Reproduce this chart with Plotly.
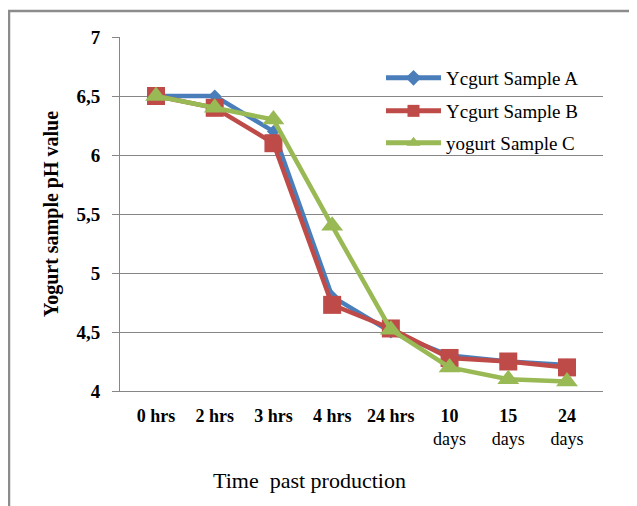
import plotly.graph_objects as go

categories = ["<b>0 hrs</b>", "<b>2 hrs</b>", "<b>3 hrs</b>", "<b>4 hrs</b>", "<b>24 hrs</b>",
              "<b>10</b><br>days", "<b>15</b><br>days", "<b>24</b><br>days"]
sample_a = [6.5, 6.5, 6.2, 4.8, 4.5, 4.3, 4.25, 4.22]
sample_b = [6.5, 6.4, 6.1, 4.73, 4.53, 4.28, 4.25, 4.2]
sample_c = [6.5, 6.4, 6.3, 5.4, 4.52, 4.2, 4.1, 4.08]
y_ticks = [4, 4.5, 5, 5.5, 6, 6.5, 7]

serif = "Liberation Serif"

# page is offset by the default 8px body margin
OFF = 8
W, H = 637, 506
ml, mr, mt, mb = 120 - OFF, 34 + OFF, 37 - OFF, 115 + OFF
pw, ph = W - ml - mr, H - mt - mb

def px_x(p):
    return (p - OFF - ml) / pw

def px_y(p):
    return (H - mb - (p - OFF)) / ph

fig = go.Figure()
fig.add_trace(go.Scatter(x=categories, y=sample_a, name="Ycgurt Sample A", mode="lines+markers",
                         line=dict(color="#4a7ebb", width=4.5),
                         marker=dict(symbol="diamond", size=10, color="#4a7ebb"), legend="legend"))
fig.add_trace(go.Scatter(x=categories, y=sample_b, name="Ycgurt Sample B", mode="lines+markers",
                         line=dict(color="#be4b48", width=4.5),
                         marker=dict(symbol="square", size=18, color="#be4b48"), legend="legend2"))
fig.add_trace(go.Scatter(x=categories, y=sample_c, name="yogurt Sample C", mode="lines+markers",
                         line=dict(color="#98b954", width=4.5),
                         marker=dict(symbol="triangle-up", size=19, color="#98b954"), legend="legend3"))

fig.add_shape(type="rect", xref="paper", yref="paper",
              x0=px_x(9), x1=px_x(680), y0=px_y(560), y1=px_y(11),
              line=dict(color="#8c8c8c", width=2.5), fillcolor="rgba(0,0,0,0)", layer="below")

fig.add_annotation(text="Time  past production", xref="paper", yref="paper",
                   x=px_x(309), y=px_y(480), xanchor="center", yanchor="middle", showarrow=False,
                   font=dict(family=serif, size=22, color="black"))

leg_font = dict(family=serif, size=19, color="black")
def leg(cy):
    return dict(x=px_x(381), y=px_y(cy), xanchor="left", yanchor="middle",
                bgcolor="rgba(0,0,0,0)", font=leg_font, itemwidth=55, itemsizing="constant")

fig.update_layout(
    width=W, height=H,
    margin=dict(l=ml, r=mr, t=mt, b=mb),
    paper_bgcolor="white", plot_bgcolor="white",
    separators=",.",
    showlegend=True,
    legend=leg(78), legend2=leg(111), legend3=leg(143),
    xaxis=dict(
        showgrid=False, showline=True, linecolor="#868686", linewidth=1,
        ticks="", ticklabelstandoff=8,
        tickfont=dict(family=serif, size=18, color="black"),
    ),
    yaxis=dict(
        range=[4, 7], tickvals=y_ticks, showgrid=True, gridcolor="#868686", gridwidth=1,
        showline=True, linecolor="#868686", linewidth=1, ticks="outside", ticklen=7, tickcolor="#868686",
        ticklabelstandoff=8,
        tickfont=dict(family=serif, size=19, color="black", weight="bold"),
        title=dict(text="<b>Yogurt sample pH value</b>", font=dict(family=serif, size=20, color="black"), standoff=12),
        zeroline=False,
    ),
)

fig.write_html("out.html")
